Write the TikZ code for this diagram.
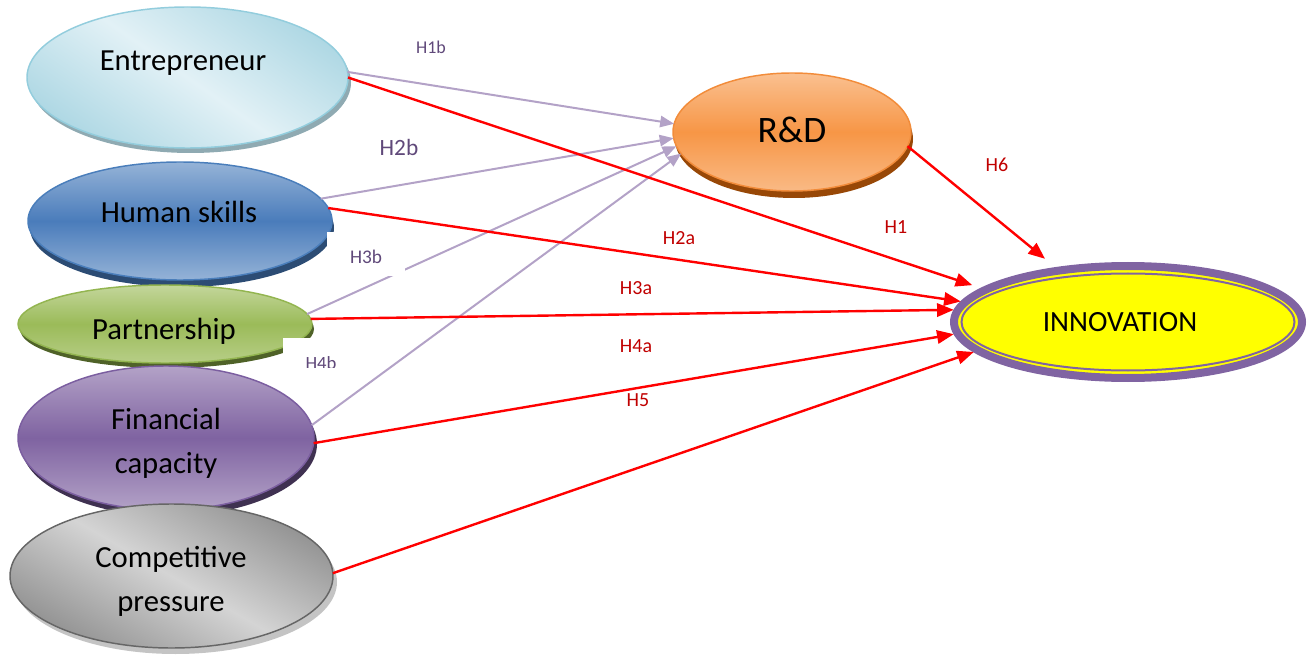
\documentclass[tikz,border=0pt]{standalone}
\usepackage{fontspec}
\setmainfont{Carlito}
\usetikzlibrary{shapes.geometric,arrows.meta,calc}
\definecolor{entbd}{HTML}{93CDDD}
\definecolor{entlt}{HTML}{E2F1F6}
\definecolor{entdk}{HTML}{AFD8E4}
\definecolor{entsh}{HTML}{8FAAB2}
\definecolor{hsbd}{HTML}{4A7EBB}
\definecolor{hsmid}{HTML}{4A7CBB}
\definecolor{hslt}{HTML}{95B3D7}
\definecolor{hssh}{HTML}{2C4C74}
\definecolor{pabd}{HTML}{93B550}
\definecolor{pamid}{HTML}{9BBB59}
\definecolor{palt}{HTML}{C3D69B}
\definecolor{pash}{HTML}{4F6228}
\definecolor{fibd}{HTML}{7B5EA0}
\definecolor{fimid}{HTML}{7F63A1}
\definecolor{filt}{HTML}{B3A2C7}
\definecolor{fish}{HTML}{3F3151}
\definecolor{cobd}{HTML}{666666}
\definecolor{codk}{HTML}{939393}
\definecolor{colt}{HTML}{D4D4D4}
\definecolor{cosh}{HTML}{C4C4C4}
\definecolor{rdbd}{HTML}{F28C3A}
\definecolor{rdmid}{HTML}{F79646}
\definecolor{rdlt}{HTML}{FAC090}
\definecolor{rdsh}{HTML}{984807}
\definecolor{innpu}{HTML}{8064A2}
\definecolor{innye}{HTML}{FFFF00}
\definecolor{lavline}{HTML}{B3A2C7}
\definecolor{purtxt}{HTML}{60497A}
\definecolor{redtxt}{HTML}{C00000}
\definecolor{redline}{HTML}{FF0000}
\begin{document}
\begin{tikzpicture}[x=0.75pt,y=-0.75pt,
  ell/.style={ellipse, inner sep=0pt, outer sep=0pt, line width=1.1pt},
  bigtxt/.style={inner sep=0pt, align=center, font=\fontsize{23}{33}\selectfont},
  lavlbl/.style={inner sep=0pt, text=purtxt},
  redlbl/.style={inner sep=0pt, text=redtxt, font=\fontsize{15}{18}\selectfont},
  lavarr/.style={draw=lavline, line width=1.5pt, -{Triangle[length=10.5pt,width=8.5pt]}},
  redarr/.style={draw=redline, line width=1.8pt, -{Triangle[length=12.5pt,width=10pt]}},
  whitebox/.style={fill=white, draw=none}
]
\useasboundingbox (0,0) rectangle (1311,656);

% Entrepreneur
\fill[entsh] (190.5,82.5) ellipse [x radius=160.5, y radius=70.5];
\node[ell, draw=entbd, top color=entdk, bottom color=entdk, middle color=entlt, shading angle=-35,
  minimum width=240.75pt, minimum height=105.75pt] (ent) at (187.5,77.5) {};
\node[bigtxt] (entT) at (183,63) {Entrepreneur};

% Human skills
\fill[hssh] (182,228) ellipse [x radius=152, y radius=59];
\node[ell, draw=hsbd, top color=hslt, bottom color=hslt, middle color=hsmid,
  minimum width=228pt, minimum height=88.5pt] (hs) at (180,221) {};
\node[bigtxt] (hsT) at (179,212) {Human skills};

% Partnership
\fill[pash] (167,329) ellipse [x radius=147, y radius=39];
\node[ell, draw=pabd, top color=palt, bottom color=palt!70!pamid, middle color=pamid,
  minimum width=220.5pt, minimum height=58.5pt] (par) at (165,324) {};
\node[bigtxt] (parT) at (164,331) {Partnership};

% H4b text box (cuts Partnership)
\fill[whitebox] (283,338) rectangle (345,372);
\begin{scope}
  \clip (283,338) rectangle (360,367.5);
  \node[lavlbl, font=\fontsize{14}{16}\selectfont] (h4b) at (321,363) {H4b};
\end{scope}

% Financial capacity
\fill[fish] (169,444) ellipse [x radius=148, y radius=72];
\node[ell, draw=fibd, top color=filt, bottom color=filt, middle color=fimid,
  minimum width=222pt, minimum height=108pt] (fin) at (166,438) {};
\node[bigtxt] (finT) at (166,443) {Financial\\capacity};

% Competitive pressure
\fill[cosh] (175.5,582) ellipse [x radius=161.5, y radius=72];
\node[ell, draw=cobd, top color=codk, bottom color=codk, middle color=colt, shading angle=-30,
  minimum width=242.25pt, minimum height=108pt] (comp) at (171.5,576) {};
\node[bigtxt] (compT) at (171,581) {Competitive\\pressure};

% R&D
\fill[rdsh] (794,139) ellipse [x radius=119, y radius=59];
\node[ell, draw=rdbd, top color=rdlt, bottom color=rdlt!85!rdmid, middle color=rdmid,
  minimum width=178.5pt, minimum height=88.5pt] (rd) at (792,132) {};
\node[inner sep=0pt, font=\fontsize{28}{30}\selectfont] (rdT) at (792,130) {R\&D};

% INNOVATION
\node[ellipse, inner sep=0pt, outer sep=3pt, fill=innye, draw=innpu, line width=6pt,
  minimum width=261pt, minimum height=84pt] (inn) at (1128,322) {};
\draw[innpu, line width=1.5pt] (1128,322) ellipse [x radius=166.5, y radius=48.5];
\node[inner sep=0pt, font=\fontsize{22}{24}\selectfont] (innT) at (1120,322) {INNOVATION};

% lavender connectors to R&D
\draw[lavarr] (ent.2) -- (rd.176.5);
\draw[lavarr] (hs.9) -- (rd.183.4);
\draw[lavarr] (par.4) -- (rd.187);
\draw[lavarr] (fin.5) -- (rd.191);

% red connectors to INNOVATION
\draw[redarr, shorten >=7pt] (ent.0) -- (inn.167.5);
\draw[redarr] (hs.5) -- (inn.173);
\draw[redarr] (par.2) -- (inn.176);
\draw[redarr] (fin.-2) -- (inn.184);
\draw[redarr] (comp.1.5) -- (inn.191);
\draw[redarr, shorten >=10pt] (rd.-7) -- (inn.143);

% H3b text box (cuts Human skills and the H3b line)
\fill[whitebox] (327,232) rectangle (405,276);
\node[lavlbl, font=\fontsize{14.5}{16}\selectfont] (h3b) at (366,256.5) {H3b};

% labels
\node[lavlbl, font=\fontsize{13.5}{16}\selectfont] (h1b) at (431,47) {H1b};
\node[lavlbl, font=\fontsize{17.5}{20}\selectfont] (h2b) at (399,147.5) {H2b};
\node[redlbl] (h1) at (896,227.5) {H1};
\node[redlbl] (h2a) at (679,238.5) {H2a};
\node[redlbl] (h3a) at (636,288.5) {H3a};
\node[redlbl] (h4a) at (636,346) {H4a};
\node[redlbl] (h5) at (638,400.5) {H5};
\node[redlbl] (h6) at (997,165) {H6};
\end{tikzpicture}
\end{document}
